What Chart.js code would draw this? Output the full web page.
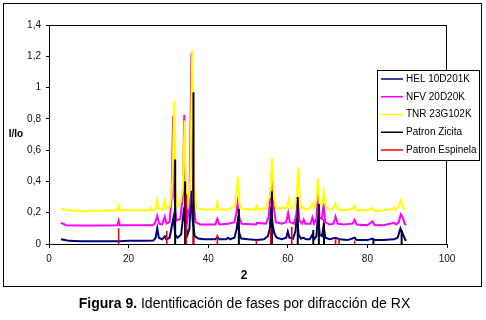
<!DOCTYPE html>
<html>
<head>
<meta charset="utf-8">
<script src="https://cdn.jsdelivr.net/npm/chart.js@4/dist/chart.umd.min.js"></script>
<style>
  body { margin: 0; background: #fff; font-family: "Liberation Sans", Arial, sans-serif; }
  #marco { position: absolute; left: 3px; top: 3px; width: 477px; height: 282px; border: 1px solid #000; }
  #grafico { position: absolute; left: 0; top: 0; }
  #pie { position: absolute; left: 0; top: 295px; width: 489px; text-align: center; font-size: 14px; line-height: 16px; color: #000; }
</style>
</head>
<body>
<div id="marco"></div>
<canvas id="grafico" width="486" height="320"></canvas>
<div id="pie"><b>Figura 9.</b> Identificación de fases por difracción de RX</div>
<script>
// 2 theta, I/Io
const hel = [[3.0,0.03],[4.0,0.025],[5,0.02],[8,0.018],[12,0.018],[16,0.017],[17.3,0.018],[17.5,0.022],[17.7,0.018],[20,0.02],[24,0.02],[26.2,0.022],[26.8,0.04],[27.2,0.10],[27.6,0.04],[28.4,0.03],[29.1,0.05],[29.5,0.03],[30.3,0.04],[30.9,0.12],[31.3,0.17],[31.7,0.06],[32.3,0.04],[33.2,0.06],[33.8,0.20],[34.3,0.12],[34.8,0.06],[35.3,0.10],[35.7,0.34],[36.1,0.15],[36.6,0.05],[37.5,0.035],[39,0.03],[41.8,0.03],[42.3,0.045],[42.8,0.03],[44.5,0.03],[45.0,0.04],[45.5,0.03],[46.6,0.04],[47.1,0.09],[47.4,0.145],[47.8,0.07],[48.3,0.035],[50,0.03],[52.2,0.025],[54,0.03],[55.0,0.05],[55.5,0.10],[55.8,0.24],[56.2,0.12],[56.6,0.07],[57.2,0.04],[58.5,0.03],[59.6,0.04],[60.0,0.08],[60.4,0.04],[61.3,0.035],[61.9,0.08],[62.3,0.19],[62.7,0.06],[63.3,0.035],[64.0,0.04],[64.5,0.03],[65.5,0.03],[66.2,0.06],[66.6,0.03],[67.2,0.05],[67.6,0.20],[68.0,0.06],[68.6,0.05],[69.0,0.12],[69.4,0.04],[70.5,0.03],[72.0,0.04],[73,0.03],[75,0.025],[76.8,0.04],[77.3,0.025],[80,0.025],[81.3,0.035],[81.8,0.025],[84,0.025],[86.7,0.03],[87.6,0.04],[88.3,0.10],[88.8,0.07],[89.3,0.04],[89.7,0.02]];

const nfv = [[3.0,0.135],[3.5,0.13],[4.3,0.12],[8,0.118],[12,0.118],[17.2,0.12],[17.5,0.15],[17.8,0.12],[22,0.12],[26,0.12],[26.6,0.13],[27.2,0.18],[27.7,0.13],[28.4,0.125],[29.1,0.175],[29.5,0.13],[30.3,0.14],[30.8,0.3],[31.2,0.82],[31.5,0.3],[32.0,0.15],[33.0,0.16],[33.6,0.3],[34.0,0.825],[34.3,0.3],[34.8,0.16],[35.3,0.25],[35.8,1.22],[36.2,0.3],[36.8,0.14],[38,0.125],[41.8,0.125],[42.3,0.16],[42.8,0.125],[45,0.13],[46.6,0.14],[47.1,0.2],[47.4,0.26],[47.8,0.17],[48.4,0.13],[52,0.125],[52.2,0.135],[54.5,0.13],[55.2,0.17],[55.6,0.3],[56.0,0.455],[56.4,0.25],[57,0.14],[58.5,0.13],[59.6,0.14],[60.1,0.2],[60.5,0.14],[61.5,0.13],[62.1,0.18],[62.5,0.28],[62.9,0.15],[63.6,0.13],[64.0,0.155],[64.4,0.13],[65.7,0.13],[66.2,0.17],[66.6,0.13],[67.2,0.16],[67.6,0.33],[68.0,0.17],[68.6,0.16],[69.0,0.26],[69.4,0.14],[70.5,0.125],[71.5,0.13],[72.0,0.175],[72.5,0.13],[74,0.125],[76.3,0.13],[76.8,0.155],[77.3,0.125],[80,0.12],[81.3,0.145],[81.8,0.12],[84,0.12],[86.7,0.135],[87.2,0.125],[87.9,0.14],[88.4,0.19],[88.9,0.17],[89.4,0.13],[89.7,0.12]];

const tnr = [[3.0,0.225],[4,0.22],[5,0.215],[8,0.21],[12,0.213],[17.2,0.215],[17.5,0.245],[17.8,0.215],[22,0.215],[25.2,0.215],[25.5,0.23],[25.8,0.215],[26.7,0.22],[27.2,0.28],[27.6,0.225],[28.6,0.22],[29.1,0.275],[29.5,0.225],[30.4,0.24],[31.0,0.4],[31.5,0.915],[31.8,0.35],[32.3,0.24],[33.0,0.26],[33.6,0.35],[34.1,0.79],[34.4,0.35],[35.0,0.26],[35.5,0.4],[36.0,1.24],[36.4,0.4],[37,0.23],[39,0.22],[41.9,0.22],[42.3,0.265],[42.7,0.22],[45,0.22],[46.7,0.24],[47.2,0.35],[47.5,0.43],[47.9,0.25],[48.5,0.225],[51.8,0.22],[52.2,0.245],[52.6,0.22],[54.7,0.23],[55.3,0.30],[55.6,0.3],[56.1,0.55],[56.5,0.3],[57.1,0.23],[59.7,0.23],[60.3,0.29],[60.7,0.23],[61.6,0.23],[62.2,0.3],[62.7,0.49],[63.1,0.25],[63.6,0.225],[64.0,0.235],[64.5,0.22],[65.7,0.23],[66.2,0.26],[66.6,0.23],[67.2,0.28],[67.6,0.42],[68.0,0.26],[68.6,0.25],[69.1,0.33],[69.5,0.24],[70.5,0.22],[71.5,0.23],[72.0,0.26],[72.5,0.22],[74,0.215],[76.3,0.225],[76.8,0.245],[77.3,0.215],[80,0.215],[81.3,0.23],[81.8,0.21],[84,0.215],[86.4,0.225],[86.7,0.235],[87.1,0.22],[87.9,0.24],[88.4,0.28],[88.8,0.25],[89.3,0.225],[89.7,0.22]];

// patrones (lineas)
const zicitaPos = [31.7, 34.2, 36.3, 47.7, 56.0, 62.5, 66.4, 67.8, 69.1, 81.5, 88.6];
const zicitaInt = [0.54, 0.40, 0.97, 0.225, 0.335, 0.30, 0.09, 0.255, 0.135, 0.03, 0.09];
const espinelaPos = [17.5, 29.6, 34.5, 36.3, 42.3, 52.1, 55.7, 61.0, 72.0, 72.9, 76.8];
const espinelaInt = [0.10, 0.085, 0.32, 0.05, 0.06, 0.025, 0.10, 0.11, 0.03, 0.03, 0.02];

const nombres = ['HEL 10D201K', 'NFV 20D20K', 'TNR 23G102K', 'Patron Zicita', 'Patron Espinela'];
const colores = ['#000080', '#FF00FF', '#FFFF00', '#000000', '#FF0000'];

const xTicks = ['0', '20', '40', '60', '80', '100'];
const yTicks = ['0', '0,2', '0,4', '0,6', '0,8', '1', '1,2', '1,4'];

function puntos(arr) {
  return arr.map(p => ({x: p[0], y: p[1]}));
}
function palitos(pos, val) {
  let d = [];
  pos.forEach((x, i) => {
    d.push({x: x, y: 0}, {x: x, y: val[i]}, {x: x, y: null});
  });
  return d;
}

const fuente = '"Liberation Sans", Arial, sans-serif';

const marcoYLeyenda = {
  id: 'marcoYLeyenda',
  afterDraw(chart) {
    const ctx = chart.ctx;
    const a = chart.chartArea;
    ctx.save();
    // caja del area de trazado
    ctx.strokeStyle = '#000';
    ctx.lineWidth = 1;
    ctx.strokeRect(Math.round(a.left) + 0.5, Math.round(a.top) + 0.5, Math.round(a.right - a.left) - 1, Math.round(a.bottom - a.top));
    // titulos de ejes
    ctx.fillStyle = '#000';
    ctx.font = 'bold 10px ' + fuente;
    ctx.textAlign = 'center';
    ctx.textBaseline = 'middle';
    ctx.fillText('I/Io', a.left - 33, (a.top + a.bottom) / 2);
    ctx.font = 'bold 12px ' + fuente;
    ctx.fillText('2', (a.left + a.right) / 2 - 4, a.bottom + 32);
    // leyenda
    ctx.fillStyle = '#fff';
    ctx.fillRect(377.5, 70.5, 102, 90);
    ctx.strokeRect(377.5, 70.5, 102, 90);
    ctx.font = '10px ' + fuente;
    ctx.textAlign = 'left';
    nombres.forEach((n, i) => {
      const y = 79 + i * 17.75;
      ctx.strokeStyle = colores[i];
      ctx.lineWidth = 1.5;
      ctx.beginPath();
      ctx.moveTo(381, y);
      ctx.lineTo(403, y);
      ctx.stroke();
      ctx.fillStyle = '#000';
      ctx.fillText(n, 406, y);
    });
    ctx.restore();
  }
};

const series = [
  {label: nombres[0], data: puntos(hel), borderColor: colores[0], borderWidth: 2, order: 4},
  {label: nombres[1], data: puntos(nfv), borderColor: colores[1], borderWidth: 2, order: 3},
  {label: nombres[2], data: puntos(tnr), borderColor: colores[2], borderWidth: 2, order: 2},
  {label: nombres[3], data: palitos(zicitaPos, zicitaInt), borderColor: colores[3], borderWidth: 2, order: 1},
  {label: nombres[4], data: palitos(espinelaPos, espinelaInt), borderColor: colores[4], borderWidth: 1.6, order: 0}
];
series.forEach(s => { s.showLine = true; s.pointRadius = 0; s.tension = 0; s.spanGaps = false; s.fill = false; });

new Chart(document.getElementById('grafico'), {
  type: 'scatter',
  data: {datasets: series},
  options: {
    responsive: false,
    animation: false,
    devicePixelRatio: 1,
    layout: {padding: {left: 0, top: 25, right: 39, bottom: 32}},
    plugins: {legend: {display: false}, tooltip: {enabled: false}},
    scales: {
      x: {
        type: 'linear', min: 0, max: 100,
        afterFit: s => { s.height = 44; },
        grid: {drawOnChartArea: false, color: '#000', tickLength: 4},
        border: {color: '#000'},
        ticks: {stepSize: 20, padding: 5, color: '#111', font: {family: fuente, size: 10},
          callback: (v, i) => xTicks[i]}
      },
      y: {
        type: 'linear', min: 0, max: 1.4,
        afterFit: s => { s.width = 49; },
        grid: {drawOnChartArea: false, color: '#000', tickLength: 3},
        border: {color: '#000'},
        ticks: {stepSize: 0.2, padding: 5, color: '#111', font: {family: fuente, size: 10},
          callback: (v, i) => yTicks[i]}
      }
    }
  },
  plugins: [marcoYLeyenda]
});
</script>
</body>
</html>
